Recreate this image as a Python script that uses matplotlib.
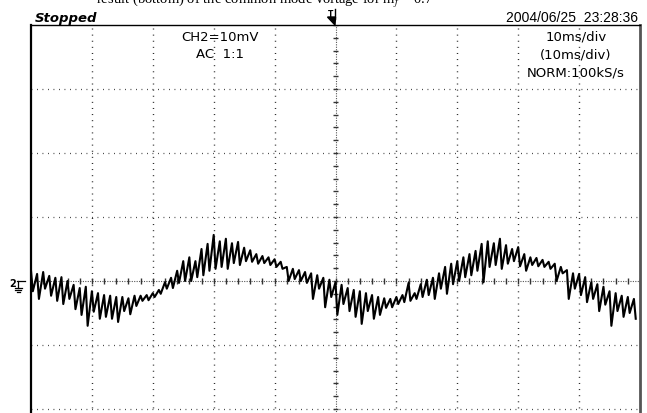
import numpy as np
import matplotlib
matplotlib.use("Agg")
import matplotlib.pyplot as plt
from matplotlib import font_manager
from matplotlib.lines import Line2D
from matplotlib.patches import Polygon

# ---------------- data ----------------
# CH2 trace in mV: one upper and one lower excursion per ripple cycle,
# 100 ripple cycles across the 100 ms screen (10 ms/div)
ripple_high_mV = [
    1.6, 1.1, 1.4, 0.8, 0.5, 0.6, 0.0, -0.6, -1.1, -0.9,
    -1.6, -1.9, -2.2, -2.3, -2.5, -2.5, -2.7, -2.3, -2.3, -2.2,
    -1.9, -1.4, -0.2, 0.5, 1.6, 3.1, 3.7, 3.1, 5.0, 5.8,
    7.2, 6.2, 6.6, 5.9, 6.1, 5.2, 4.8, 4.2, 3.9, 3.7,
    3.4, 3.0, 2.2, 1.9, 1.7, 1.4, 1.2, 0.9, 0.5, 0.2,
    -0.2, -0.6, -1.1, -1.4, -1.6, -1.9, -2.2, -2.5, -2.7, -2.8,
    -2.5, -2.2, -0.3, -1.9, -0.5, 0.2, 0.5, 1.2, 2.2, 2.7,
    3.1, 3.7, 4.2, 4.7, 5.8, 6.2, 5.9, 6.6, 5.6, 5.0,
    5.3, 4.2, 3.7, 3.6, 3.3, 3.0, 2.7, 2.2, 1.7, 1.2,
    1.1, 0.6, -0.2, -0.5, -0.9, -1.6, -1.9, -2.3, -2.5, -2.8,
]
ripple_low_mV = [
    -1.6, -2.8, -1.2, -2.3, -3.1, -3.6, -2.8, -4.4, -5.3, -7.0,
    -4.8, -5.9, -5.6, -5.9, -6.4, -4.7, -5.2, -3.9, -3.1, -3.0,
    -2.5, -2.0, -1.2, -1.1, -0.3, 0.0, 0.0, 0.6, 0.9, 1.6,
    1.9, 2.2, 1.9, 2.8, 2.5, 3.1, 3.0, 2.7, 2.8, 2.5,
    2.2, 1.9, 0.0, 0.3, 0.0, -0.3, -2.8, -1.2, -4.1, -2.5,
    -5.3, -3.6, -4.7, -5.6, -6.7, -4.7, -5.9, -5.3, -4.2, -4.1,
    -3.6, -3.3, -3.1, -2.8, -2.5, -2.2, -2.8, -1.2, -2.0, -0.5,
    0.0, 0.6, 0.9, 1.6, -0.2, 2.2, 2.5, 1.9, 2.7, 3.1,
    2.3, 1.6, 2.5, 2.3, 2.2, 1.9, 0.0, 1.2, -2.8, -1.2,
    -2.2, -3.3, -2.8, -4.7, -3.7, -7.0, -4.7, -5.6, -5.0, -5.9,
]
cycle_ms = 1.0
time_per_div_ms = 10
volt_per_div_mV = 10

status_label = "Stopped"
datetime_label = "2004/06/25  23:28:36"
channel_labels = ["CH2=10mV", "AC  1:1"]
timebase_labels = ["10ms/div", "(10ms/div)", "NORM:100kS/s"]
caption_label = "result (bottom) of the common mode voltage for m$_f$ = 0.7"

# ---------------- fonts ----------------
def pick(fams):
    for f in fams:
        try:
            font_manager.findfont(f, fallback_to_default=False)
            return f
        except Exception:
            pass
    return "DejaVu Sans"

narrow = pick(["Liberation Sans Narrow", "DejaVu Sans Condensed", "Liberation Sans"])
serif = pick(["Liberation Serif", "DejaVu Serif"])
plt.rcParams["mathtext.fontset"] = "stix"

# ---------------- figure ----------------
W, H = 647, 414
fig = plt.figure(figsize=(W / 100, H / 100), dpi=100)
fig.patch.set_facecolor("white")

def fx(px):
    return px / W

def fy(py):
    return 1 - py / H

left_px, right_px, top_px = 31, 640, 26
div_y_px = 64
bottom_px = top_px + 8 * div_y_px
ax = fig.add_axes([fx(left_px), fy(bottom_px), (right_px - left_px) / W,
                   (bottom_px - top_px) / H])
ax.set_xlim(0, 10 * time_per_div_ms)
ax.set_ylim(-4 * volt_per_div_mV, 4 * volt_per_div_mV)
ax.set_xticks([])
ax.set_yticks([])
ax.set_facecolor("white")
ax.spines["left"].set_linewidth(1.6)
ax.spines["left"].set_color("black")
ax.spines["top"].set_linewidth(1.0)
ax.spines["right"].set_linewidth(2.0)
ax.spines["right"].set_color("#555555")
ax.spines["bottom"].set_visible(False)

# grid
dot = (0, (0.7, 3.7))
for k in range(1, 10):
    if k == 5:
        continue
    ax.axvline(k * time_per_div_ms, color="#222222", lw=1.0, ls=dot, zorder=1)
for k in range(-3, 4):
    if k == 0:
        continue
    ax.axhline(k * volt_per_div_mV, color="#333333", lw=0.9, ls=dot, zorder=1)

# centre axes with minor ticks
ax.axhline(0, color="#555555", lw=0.8, ls=(0, (1.0, 1.2)), zorder=1)
ax.axvline(5 * time_per_div_ms, color="#555555", lw=0.8, ls=(0, (1.0, 1.2)), zorder=1)
minor_t = np.arange(0, 10 * time_per_div_ms + 0.01, time_per_div_ms / 5)
ax.vlines(minor_t, -0.4, 0.4, color="#333333", lw=1.0, zorder=1)
minor_v = np.arange(-4 * volt_per_div_mV, 4 * volt_per_div_mV + 0.01, volt_per_div_mV / 5)
ax.hlines(minor_v, 5 * time_per_div_ms - 0.45, 5 * time_per_div_ms + 0.45,
          color="#333333", lw=1.0, zorder=1)

# trace
n = len(ripple_high_mV)
t = np.empty(2 * n)
v = np.empty(2 * n)
t[0::2] = np.arange(n) * cycle_ms
t[1::2] = np.arange(n) * cycle_ms + cycle_ms * 0.3
v[0::2] = ripple_high_mV
v[1::2] = ripple_low_mV
ax.plot(t, v, color="black", lw=1.5, zorder=3)

# on-screen labels
for i, s in enumerate(channel_labels):
    fig.text(fx(220), fy(41 + 17 * i), s, ha="center", va="baseline",
             fontsize=9.5, family="DejaVu Sans", zorder=5)
for i, s in enumerate(timebase_labels):
    fig.text(fx(576), fy(40 + 18 * i), s, ha="center", va="baseline",
             fontsize=9.5, family="DejaVu Sans", zorder=5)

# header
fig.text(fx(35), fy(22), status_label, ha="left", va="baseline",
         fontsize=9.5, style="italic", weight="bold", family="DejaVu Sans")
fig.text(fx(638), fy(22), datetime_label, ha="right", va="baseline",
         fontsize=10, family=narrow)
fig.text(fx(265), fy(4), caption_label, ha="center", va="baseline",
         fontsize=10.5, family=serif)

# trigger marker
fig.text(fx(330.5), fy(17), "T", ha="center", va="baseline", fontsize=5.5,
         weight="bold", family="DejaVu Sans")
fig.add_artist(Line2D([fx(334.5), fx(334.5)], [fy(10), fy(20)], color="black",
                      lw=1.0, transform=fig.transFigure))
fig.add_artist(Polygon([[fx(327.5), fy(18)], [fx(335.5), fy(18)], [fx(335), fy(26)]],
                       closed=True, color="black", transform=fig.transFigure))

# ground marker for CH2
gy = 282
fig.text(fx(12.5), fy(gy + 5), "2", ha="center", va="baseline", fontsize=7,
         weight="bold", family="DejaVu Sans")
for (x0, y0, x1, y1) in [(17, gy, 25, gy), (18, gy, 18, gy + 7),
                         (14.5, gy + 7, 21.5, gy + 7), (15.5, gy + 9, 20.5, gy + 9),
                         (16.5, gy + 11, 19.5, gy + 11)]:
    fig.add_artist(Line2D([fx(x0), fx(x1)], [fy(y0), fy(y1)], color="black",
                          lw=0.9, transform=fig.transFigure))

fig.savefig("out.png", dpi=100, facecolor="white")
